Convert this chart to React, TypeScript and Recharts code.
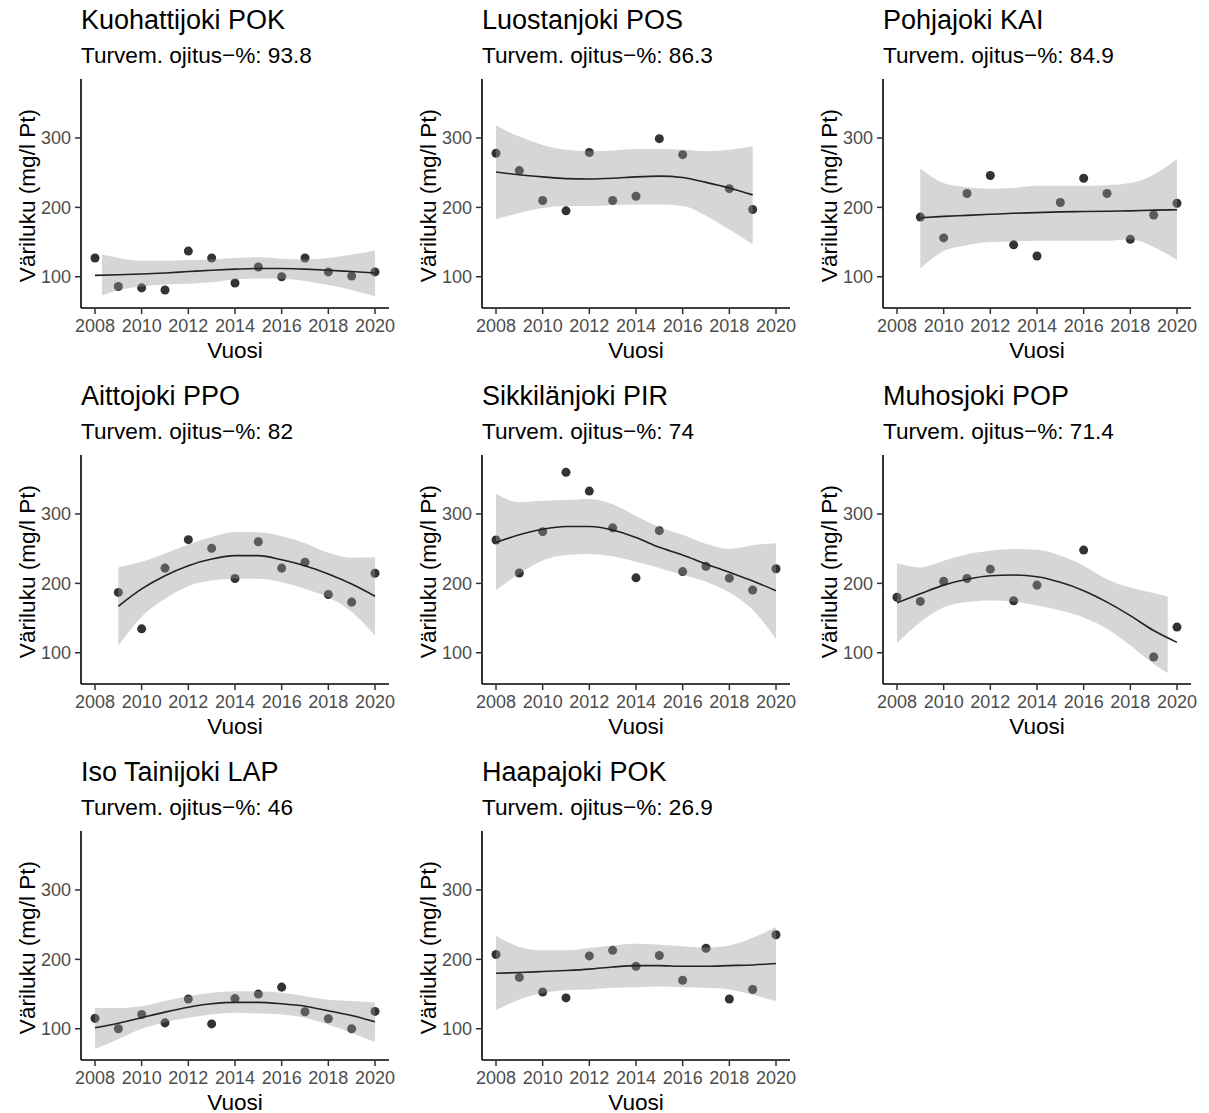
import { ComposedChart, Scatter, Area, Line, XAxis, YAxis } from "recharts";

const YEARS = [2008, 2009, 2010, 2011, 2012, 2013, 2014, 2015, 2016, 2017, 2018, 2019, 2020];
const X_TICKS = [2008, 2010, 2012, 2014, 2016, 2018, 2020];
const Y_TICKS = [100, 200, 300];

const RIVERS = [
  "Kuohattijoki POK",
  "Luostanjoki POS",
  "Pohjajoki KAI",
  "Aittojoki PPO",
  "Sikkilänjoki PIR",
  "Muhosjoki POP",
  "Iso Tainijoki LAP",
  "Haapajoki POK",
];
const DRAINED_PCT = [93.8, 86.3, 84.9, 82, 74, 71.4, 46, 26.9];

// yearly colour values (null = no sample), loess fit and its 95% band
const kuohattiPoints = [127, 86, 84, 81, 137, 127, 91, 114, 100, 127, 107, 101, 107];
const kuohattiFit = [102, 103, 104, 105.5, 107.5, 109.5, 111, 112, 112, 111, 109.5, 107.5, 105.5];
const kuohattiBandYears = [2008.3, 2009, 2010, 2011, 2012, 2013, 2014, 2015, 2016, 2017, 2018, 2019, 2020];
const kuohattiLow = [73, 81, 86, 89, 90, 92, 96, 97.5, 97, 94, 88, 81, 72];
const kuohattiHigh = [132, 127, 123, 123, 124, 125, 127, 128, 126, 125, 127, 132, 138];

const luostanPoints = [278, 253, 210, 195, 279, 210, 216, 299, 276, null, 227, 197, null];
const luostanFit = [251, 247, 244, 241.5, 241, 242, 244, 245, 243, 236, 228, 218, null];
const luostanLow = [183, 192, 199, 202, 202, 203, 204, 204, 202, 188, 168, 147, null];
const luostanHigh = [318, 302, 290, 283, 281, 282, 284, 284, 283, 281, 283, 288, null];

const pohjaPoints = [null, 186, 156, 220, 246, 146, 130, 207, 242, 220, 154, 189, 206];
const pohjaFit = [null, 185, 187, 188.5, 190, 191.5, 192.5, 193.5, 194, 194.5, 195, 196, 196.5];
const pohjaLow = [null, 112, 137, 145.5, 150, 151, 152, 152, 152, 152, 154, 143, 124];
const pohjaHigh = [null, 256, 235, 229, 227, 228, 231, 231, 231, 232, 235, 247, 270];

const aittoPoints = [null, 187, 134.5, 222, 263, 250.5, 207, 260, 222, 230.5, 184, 173, 214.5];
const aittoFit = [null, 167, 192, 211, 225.5, 235, 240, 240, 234, 225.5, 213.5, 199, 181.5];
const aittoLow = [null, 110, 152, 178, 196, 204, 206.5, 206.5, 201.5, 192, 180, 159, 125];
const aittoHigh = [null, 223, 231, 243, 256, 267, 274, 273.5, 268, 258, 244, 237, 237.5];

const sikkilaPoints = [262.5, 215, 274.5, 360, 333, 280, 208, 276, 217, 224.5, 207.5, 190.5, 221];
const sikkilaFit = [259, 270, 278, 282, 282, 277, 266, 252, 241, 228, 216, 203.5, 189.5];
const sikkilaLow = [190, 214, 233, 241, 242.5, 239, 231, 222, 212, 202.5, 187, 162, 120];
const sikkilaHigh = [329, 317, 319, 320, 321.5, 314, 297, 281, 270, 257, 249.5, 255, 258];

const muhosPoints = [180, 174, 203, 207, 220.5, 175, 197.5, null, 248, null, null, 94, 137];
const muhosFit = [172, 185, 197.5, 206, 211, 212, 209.5, 201.5, 189.5, 173, 153.5, 132, 115];
const muhosBandYears = [2008, 2009, 2010, 2011, 2012, 2013, 2014, 2015, 2016, 2017, 2018, 2019, 2019.6];
const muhosLow = [114, 144, 165.5, 173, 175.5, 174, 168, 161, 151, 134.5, 110.5, 84, 71];
const muhosHigh = [229, 223, 232.5, 242, 247, 249.5, 248.5, 240, 225.5, 206, 194, 186, 181];

const tainiPoints = [115, 100, 120.5, 108.5, 143, 107, 143.5, 150, 160, 124.5, 114.5, 100, 125];
const tainiFit = [101.5, 108, 116, 124, 131, 136, 138, 138, 136, 132.5, 126, 119, 110];
const tainiLow = [71, 85, 100, 109.5, 116, 120.5, 123, 122, 120.5, 116, 106, 94, 81];
const tainiHigh = [130, 130, 132.5, 140, 147, 152, 154, 154, 152, 147, 142, 140, 138];

const haapaPoints = [207, 174, 153, 144.5, 205, 213, 190, 205.5, 170, 216, 143, 156.5, 235.5];
const haapaFit = [180, 181, 182.5, 184, 186, 189, 191, 191, 190, 190, 191, 192, 194];
const haapaLow = [127, 142, 151.5, 155.5, 156.5, 159, 160, 161, 160, 159, 156.5, 149, 140];
const haapaHigh = [234, 218, 213, 213, 216.5, 220, 222.5, 221, 219, 217, 220, 231, 246.5];

type Series = (number | null)[];

interface PanelData {
  points: Series;
  fit: Series;
  low: Series;
  high: Series;
  bandYears?: number[];
}

const PANELS: PanelData[] = [
  { points: kuohattiPoints, fit: kuohattiFit, low: kuohattiLow, high: kuohattiHigh, bandYears: kuohattiBandYears },
  { points: luostanPoints, fit: luostanFit, low: luostanLow, high: luostanHigh },
  { points: pohjaPoints, fit: pohjaFit, low: pohjaLow, high: pohjaHigh },
  { points: aittoPoints, fit: aittoFit, low: aittoLow, high: aittoHigh },
  { points: sikkilaPoints, fit: sikkilaFit, low: sikkilaLow, high: sikkilaHigh },
  { points: muhosPoints, fit: muhosFit, low: muhosLow, high: muhosHigh, bandYears: muhosBandYears },
  { points: tainiPoints, fit: tainiFit, low: tainiLow, high: tainiHigh },
  { points: haapaPoints, fit: haapaFit, low: haapaLow, high: haapaHigh },
];

const PANEL_W = 401;
const PANEL_H = 376;
const PLOT_LEFT = 81;
const PLOT_TOP = 79;
const PLOT_W = 308;
const PLOT_H = 229;
const FONT = '"Liberation Sans", Arial, Helvetica, sans-serif';

const tickStyle = { fontSize: 18, fill: "#4D4D4D", fontFamily: FONT };

function RiverPanel({ index }: { index: number }) {
  const panel = PANELS[index];
  const col = index % 3;
  const row = Math.floor(index / 3);

  const pointRows = YEARS.map((x, i) => ({ x, v: panel.points[i] })).filter((r) => r.v != null);
  const fitRows = YEARS.map((x, i) => ({ x, fit: panel.fit[i] })).filter((r) => r.fit != null);
  const bandRows = (panel.bandYears ?? YEARS)
    .map((x, i) => ({ x, lo: panel.low[i], hi: panel.high[i] }))
    .filter((r) => r.lo != null && r.hi != null)
    .map((r) => ({ x: r.x, band: [r.lo as number, r.hi as number] }));

  return (
    <div
      style={{
        position: "absolute",
        left: col * PANEL_W,
        top: row * PANEL_H,
        width: PANEL_W,
        height: PANEL_H,
      }}
    >
      <ComposedChart
        width={PANEL_W}
        height={PANEL_H}
        margin={{
          top: PLOT_TOP,
          right: PANEL_W - PLOT_LEFT - PLOT_W,
          bottom: PANEL_H - PLOT_TOP - PLOT_H - 50,
          left: PLOT_LEFT - 55,
        }}
      >
        <XAxis
          dataKey="x"
          type="number"
          domain={[2007.4, 2020.6]}
          ticks={X_TICKS}
          allowDataOverflow
          height={50}
          tickSize={6}
          tickMargin={5}
          tick={tickStyle}
          axisLine={{ stroke: "#000", strokeWidth: 1.6 }}
          tickLine={{ stroke: "#333", strokeWidth: 1.5 }}
        />
        <YAxis
          type="number"
          domain={[55, 385]}
          ticks={Y_TICKS}
          allowDataOverflow
          width={55}
          tickSize={6}
          tickMargin={4}
          tick={tickStyle}
          axisLine={{ stroke: "#000", strokeWidth: 1.6 }}
          tickLine={{ stroke: "#333", strokeWidth: 1.5 }}
        />
        <Scatter data={pointRows} dataKey="v" fill="#333333" isAnimationActive={false} zIndex={50} />
        <Area
          data={bandRows}
          dataKey="band"
          type="monotone"
          fill="#999999"
          fillOpacity={0.4}
          stroke="none"
          activeDot={false}
          isAnimationActive={false}
        />
        <Line
          data={fitRows}
          dataKey="fit"
          type="monotone"
          stroke="#222222"
          strokeWidth={1.6}
          dot={false}
          activeDot={false}
          isAnimationActive={false}
        />
      </ComposedChart>
      <svg
        width={PANEL_W}
        height={PANEL_H}
        style={{ position: "absolute", left: 0, top: 0, pointerEvents: "none" }}
        fontFamily={FONT}
      >
        <text x={PLOT_LEFT} y={29} fontSize={27} fill="#000">
          {RIVERS[index]}
        </text>
        <text x={PLOT_LEFT} y={63} fontSize={22.6} fill="#000">
          {`Turvem. ojitus\u2212%: ${DRAINED_PCT[index]}`}
        </text>
        <text
          transform={`translate(35, ${PLOT_TOP + PLOT_H / 2 + 2}) rotate(-90)`}
          textAnchor="middle"
          fontSize={22.6}
          fill="#000"
        >
          Väriluku (mg/l Pt)
        </text>
        <text x={PLOT_LEFT + PLOT_W / 2} y={PLOT_TOP + PLOT_H + 50} textAnchor="middle" fontSize={22.6} fill="#000">
          Vuosi
        </text>
      </svg>
    </div>
  );
}

export default function App() {
  return (
    <div
      style={{
        position: "absolute",
        left: 0,
        top: 0,
        width: 1209,
        height: 1113,
        background: "#fff",
        fontFamily: FONT,
      }}
    >
      {PANELS.map((_, i) => (
        <RiverPanel key={RIVERS[i]} index={i} />
      ))}
    </div>
  );
}
